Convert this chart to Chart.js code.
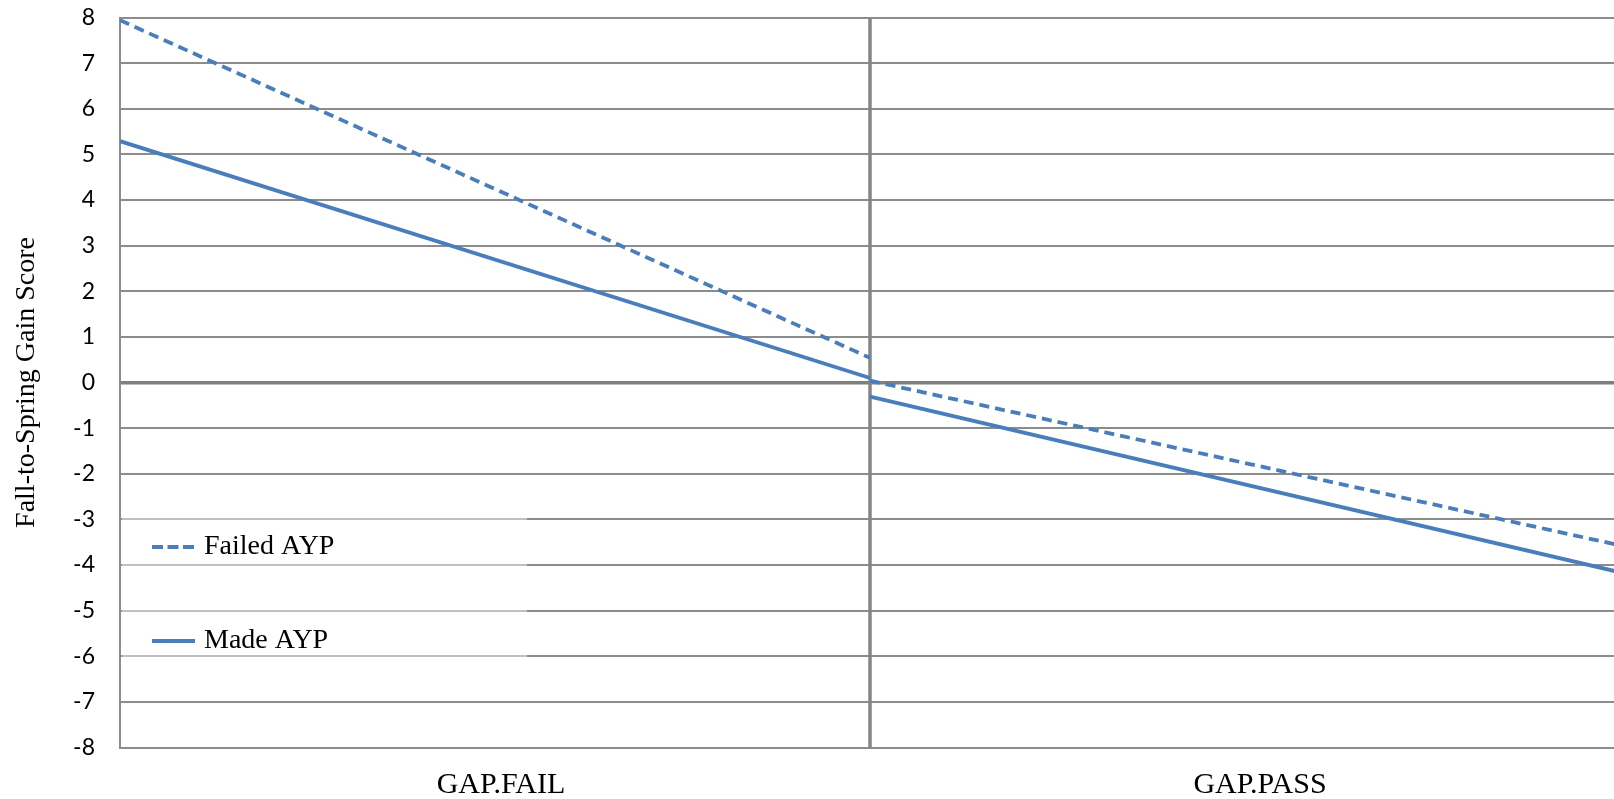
<!DOCTYPE html>
<html>
<head>
<meta charset="utf-8">
<script src="https://cdn.jsdelivr.net/npm/chart.js@4"></script>
<style>
  html, body { margin: 0; padding: 0; background: #fff; overflow: hidden; }
  #wrap { width: 1614px; height: 799px; position: relative; overflow: hidden; }
  #c { display: block; }
</style>
</head>
<body>
<div id="wrap"><canvas id="c" width="1620" height="799"></canvas></div>
<script>
// ---- data ----
const categories = ['GAP.FAIL', 'GAP.PASS'];
const categoryLabelPositions = [0.508, 1.52];
const panelBoundary = 1;
const leftPanelX = [0, 1];
const rightPanelX = [1, 2];
const failedLeft = [7.94, 0.54];
const failedRight = [0.04, -3.57];
const madeLeft = [5.29, 0.10];
const madeRight = [-0.31, -4.16];
const seriesNames = ['Failed AYP', 'Made AYP'];
const yTicks = [-8, -7, -6, -5, -4, -3, -2, -1, 0, 1, 2, 3, 4, 5, 6, 7, 8];
const yTitle = 'Fall-to-Spring Gain Score';

function panelSeries(leftVals, rightVals) {
  const pts = leftPanelX.map((x, i) => ({ x: x, y: leftVals[i] }));
  pts.push({ x: panelBoundary, y: null });
  rightPanelX.forEach((x, i) => pts.push({ x: x, y: rightVals[i] }));
  return pts;
}

const BLUE = '#4a7ebb';
const GRID = '#8c8c8c';

const overlayPlugin = {
  id: 'overlay',
  beforeDatasetsDraw(chart) {
    const { ctx, chartArea, scales } = chart;
    ctx.save();
    ctx.fillStyle = 'rgba(255,255,255,0.45)';
    ctx.fillRect(chartArea.left + 2, 508, 405, 156);
    const x = scales.x.getPixelForValue(panelBoundary);
    ctx.strokeStyle = '#858585';
    ctx.lineWidth = 3.5;
    ctx.beginPath();
    ctx.moveTo(x, chartArea.top);
    ctx.lineTo(x, chartArea.bottom);
    ctx.stroke();
    ctx.restore();
  }
};

const legendPlugin = {
  id: 'inlineLegend',
  afterDraw(chart) {
    const { ctx } = chart;
    const rows = [547, 641];
    ctx.save();
    chart.data.datasets.forEach((ds, i) => {
      const y = rows[i];
      ctx.strokeStyle = ds.borderColor;
      ctx.lineWidth = 3.8;
      ctx.setLineDash(ds.borderDash && ds.borderDash.length ? [11, 4.5] : []);
      ctx.beginPath();
      ctx.moveTo(152, y);
      ctx.lineTo(195, y);
      ctx.stroke();
      ctx.setLineDash([]);
      ctx.fillStyle = '#000';
      ctx.font = '28px "Liberation Serif"';
      ctx.textBaseline = 'middle';
      ctx.textAlign = 'left';
      ctx.fillText(ds.label, 204, y);
    });
    ctx.restore();
  }
};

new Chart(document.getElementById('c'), {
  type: 'line',
  data: {
    datasets: [
      {
        label: seriesNames[0],
        data: panelSeries(failedLeft, failedRight),
        borderColor: BLUE,
        borderWidth: 3.8,
        borderDash: [10, 6],
        pointRadius: 0,
        spanGaps: false,
        fill: false,
        tension: 0
      },
      {
        label: seriesNames[1],
        data: panelSeries(madeLeft, madeRight),
        borderColor: BLUE,
        borderWidth: 3.8,
        pointRadius: 0,
        spanGaps: false,
        fill: false,
        tension: 0
      }
    ]
  },
  options: {
    responsive: false,
    animation: false,
    layout: { padding: { top: 17.5, right: 0, left: 0, bottom: 0 } },
    plugins: { legend: { display: false }, tooltip: { enabled: false } },
    scales: {
      x: {
        type: 'linear',
        min: 0,
        max: 2,
        afterBuildTicks(scale) {
          scale.ticks = categoryLabelPositions.map(v => ({ value: v }));
        },
        afterFit(scale) { scale.height = 51.5; scale.paddingLeft = 0; scale.paddingRight = 0; },
        grid: { display: false, drawTicks: false },
        border: { display: true, color: GRID, width: 2 },
        ticks: {
          autoSkip: false,
          maxRotation: 0,
          padding: 20,
          color: '#000',
          font: { family: '"Liberation Serif"', size: 30 },
          callback(value) {
            const i = categoryLabelPositions.indexOf(value);
            return i >= 0 ? categories[i] : '';
          }
        }
      },
      y: {
        min: yTicks[0],
        max: yTicks[yTicks.length - 1],
        afterBuildTicks(scale) {
          scale.ticks = yTicks.map(v => ({ value: v }));
        },
        afterFit(scale) { scale.width = 120; scale.paddingTop = 0; scale.paddingBottom = 0; },
        grid: {
          drawTicks: false,
          color: ctx => (ctx.tick && ctx.tick.value === 0 ? '#7f7f7f' : GRID),
          lineWidth: ctx => (ctx.tick && ctx.tick.value === 0 ? 3.5 : 2)
        },
        border: { display: true, color: GRID, width: 2 },
        ticks: {
          padding: 25,
          color: '#000',
          font: { family: 'Lato', size: 23 }
        },
        title: {
          display: true,
          text: yTitle,
          color: '#000',
          font: { family: '"Liberation Serif"', size: 28 },
          padding: { top: 10, bottom: 0 }
        }
      }
    }
  },
  plugins: [overlayPlugin, legendPlugin]
});
</script>
</body>
</html>
